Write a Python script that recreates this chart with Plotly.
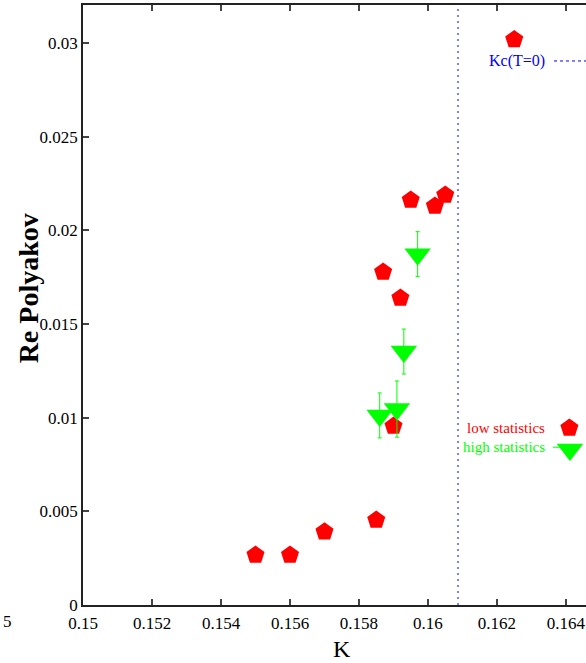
import plotly.graph_objects as go

# Real part of the Polyakov loop versus hopping parameter K
low_K = [0.1550, 0.1560, 0.1570, 0.1585, 0.1587, 0.1590, 0.1592, 0.1595, 0.1602, 0.1605, 0.1625]
low_P = [0.00267, 0.00267, 0.00391, 0.00454, 0.01778, 0.00955, 0.01639, 0.02162, 0.0213, 0.02189, 0.03019]

high_K = [0.1586, 0.1591, 0.1593, 0.1597]
high_P = [0.01012, 0.01046, 0.01353, 0.01873]
high_err = [0.0012, 0.0015, 0.0012, 0.0012]

# critical hopping parameter at zero temperature
KC_T0 = 0.16087

x_ticks = [0.15, 0.152, 0.154, 0.156, 0.158, 0.16, 0.162, 0.164]
x_tick_text = ["0.15", "0.152", "0.154", "0.156", "0.158", "0.16", "0.162", "0.164"]
y_ticks = [0, 0.005, 0.01, 0.015, 0.02, 0.025, 0.03]
y_tick_text = ["0", "0.005", "0.01", "0.015", "0.02", "0.025", "0.03"]

X_RANGE = [0.15, 0.16458]
Y_RANGE = [0.0, 0.03203]

SERIF = "Liberation Serif"
RED = "#ff0000"
GREEN = "#00ff00"
BLUE = "#0000ff"

fig = go.Figure()

# vertical marker for Kc(T=0)
fig.add_trace(go.Scatter(
    x=[KC_T0, KC_T0], y=Y_RANGE, mode="lines",
    line=dict(color=BLUE, width=1, dash="2px,4px"),
    hoverinfo="skip", showlegend=False))

fig.add_trace(go.Scatter(
    x=low_K, y=low_P, mode="markers",
    marker=dict(symbol="pentagon", size=19, color=RED, line=dict(width=0)),
    showlegend=False))

fig.add_trace(go.Scatter(
    x=high_K, y=high_P, mode="markers",
    marker=dict(symbol="triangle-down", size=23, color=GREEN, line=dict(width=0)),
    error_y=dict(type="data", array=high_err, visible=True,
                 color=GREEN, thickness=1, width=2),
    showlegend=False))

# key samples on an overlay axis in plot-fraction units
fig.add_trace(go.Scatter(
    x=[0.9364, 1.0], y=[0.9067, 0.9067], mode="lines",
    line=dict(color=BLUE, width=1, dash="dot"),
    xaxis="x2", yaxis="y2", hoverinfo="skip", showlegend=False))
fig.add_trace(go.Scatter(
    x=[0.967], y=[0.295], mode="markers",
    marker=dict(symbol="pentagon", size=19, color=RED),
    xaxis="x2", yaxis="y2", hoverinfo="skip", showlegend=False))
fig.add_trace(go.Scatter(
    x=[0.934, 1.0], y=[0.263, 0.263], mode="lines",
    line=dict(color=GREEN, width=1, dash="dash"),
    xaxis="x2", yaxis="y2", hoverinfo="skip", showlegend=False))
fig.add_trace(go.Scatter(
    x=[0.968], y=[0.259], mode="markers",
    marker=dict(symbol="triangle-down", size=23, color=GREEN),
    xaxis="x2", yaxis="y2", hoverinfo="skip", showlegend=False))

annotations = [
    dict(text="Kc(T=0)", x=0.9225, y=0.9067, xref="paper", yref="paper",
         xanchor="right", yanchor="middle", showarrow=False,
         font=dict(family=SERIF, size=16, color=BLUE)),
    dict(text="low statistics", x=0.9225, y=0.295, xref="paper", yref="paper",
         xanchor="right", yanchor="middle", showarrow=False,
         font=dict(family=SERIF, size=15, color=RED)),
    dict(text="high statistics", x=0.9225, y=0.2633, xref="paper", yref="paper",
         xanchor="right", yanchor="middle", showarrow=False,
         font=dict(family=SERIF, size=15, color=GREEN)),
    dict(text="K", x=0.515, y=-0.0733, xref="paper", yref="paper",
         xanchor="center", yanchor="middle", showarrow=False,
         font=dict(family=SERIF, size=24, color="black")),
    dict(text="<b>Re Polyakov</b>", x=-0.109, y=0.528, xref="paper", yref="paper",
         xanchor="center", yanchor="middle", showarrow=False, textangle=-90,
         font=dict(family=SERIF, size=28, color="black")),
    dict(text="5", x=-0.163, y=-0.028, xref="paper", yref="paper",
         xanchor="left", yanchor="middle", showarrow=False,
         font=dict(family=SERIF, size=17, color="black")),
]

fig.update_layout(
    width=586, height=663,
    margin=dict(l=83, r=0, t=5, b=58),
    paper_bgcolor="white", plot_bgcolor="white",
    font=dict(family=SERIF, size=17, color="black"),
    annotations=annotations,
    xaxis=dict(
        range=X_RANGE, tickvals=x_ticks, ticktext=x_tick_text,
        showgrid=False, zeroline=False,
        showline=True, linecolor="#222222", linewidth=1.5, mirror="allticks",
        ticks="inside", ticklen=6, tickcolor="#444444", tickwidth=1.5,
        ticklabelstandoff=2,
        tickfont=dict(family=SERIF, size=17, color="black"),
    ),
    yaxis=dict(
        range=Y_RANGE, tickvals=y_ticks, ticktext=y_tick_text,
        showgrid=False, zeroline=False,
        showline=True, linecolor="#222222", linewidth=1.5, mirror=False,
        ticks="inside", ticklen=6, tickcolor="#444444", tickwidth=1.5,
        tickfont=dict(family=SERIF, size=17, color="black"),
    ),
    xaxis2=dict(range=[0, 1], overlaying="x", visible=False, fixedrange=True),
    yaxis2=dict(range=[0, 1], overlaying="y", visible=False, fixedrange=True),
)

fig.write_html("out.html")
